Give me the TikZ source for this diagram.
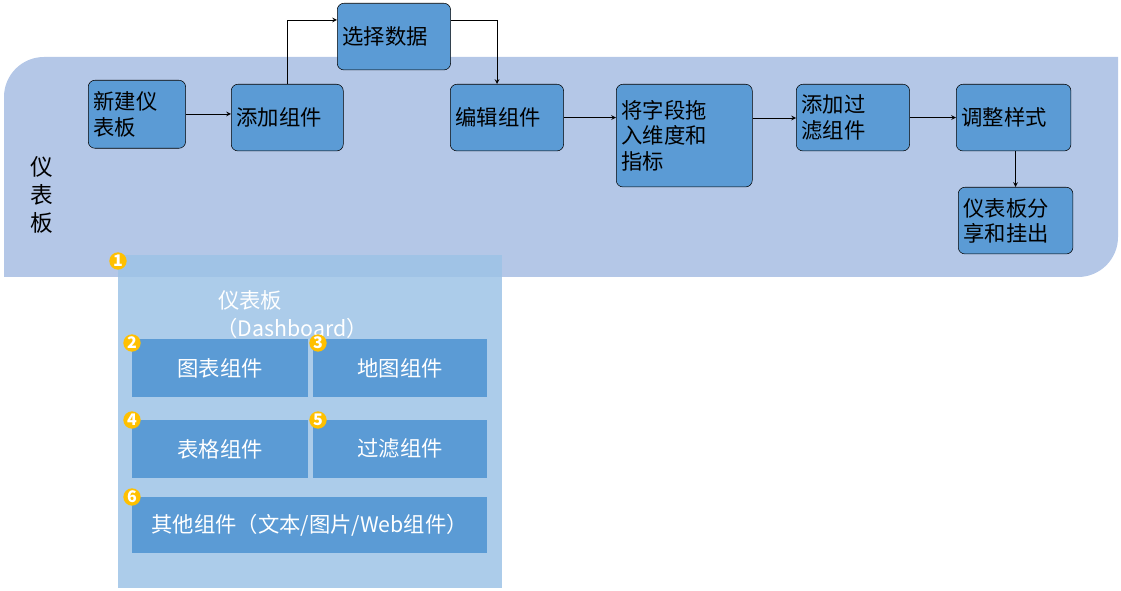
\documentclass[tikz,border=0pt]{standalone}
\usepackage{fontspec}
\setmainfont{Noto Sans CJK SC}
\usetikzlibrary{positioning}
\definecolor{band}{HTML}{B4C7E7}
\definecolor{panel}{HTML}{9DC3E6}
\definecolor{boxblue}{HTML}{5B9BD5}
\definecolor{badge}{HTML}{FFC000}
\begin{document}
\begin{tikzpicture}[x=0.75pt,y=-0.75pt,
   font=\fontsize{16}{19}\selectfont,
   stage/.style={draw=black,fill=boxblue,rounded corners=5pt,align=left,inner sep=4pt,anchor=north west,minimum height=50pt},
   part/.style={fill=boxblue,text=white,anchor=north west,minimum height=43pt,inner sep=0pt},
   num/.style={circle,fill=badge,text=white,inner sep=0pt,minimum size=13pt,font=\bfseries\fontsize{12}{12}\selectfont},
   to/.style={->,semithick,>=stealth}]
\useasboundingbox (0,0) rectangle (1121,591);
% band
\fill[band] (4,277) -- (4,97) to[out=90,in=180] (44,57) -- (1118,57) -- (1118,237) to[out=-90,in=0] (1078,277) -- cycle;
\node[font=\fontsize{17}{21}\selectfont,align=center] (board) at (42,195) {仪\\表\\板};
% panel
\fill[panel,opacity=0.85] (118,255) rectangle (502,588);
\node[text=white,font=\fontsize{16}{19}\selectfont] (ttl) at (250,300) {仪表板};
\node[text=white,font=\fontsize{16}{19}\selectfont] (ttl2) at (292,328) {（Dashboard）};
% stages
\node[stage,text width=65pt,minimum height=51pt] (new) at (88,80) {新建仪\\表板};
\node[stage,text width=76pt] (add) at (231,84) {添加组件};
\node[stage,text width=77pt] (sel) at (337,3) {选择数据};
\node[stage,text width=77pt] (edit) at (450,84) {编辑组件};
\node[stage,text width=94pt,minimum height=77pt] (drag) at (616,84) {将字段拖\\入维度和\\指标};
\node[stage,text width=77pt] (filt) at (796,84) {添加过\\滤组件};
\node[stage,text width=78pt] (style) at (956,84) {调整样式};
\node[stage,text width=78pt] (share) at (958,187) {仪表板分\\享和挂出};
% connectors
\draw[to] (new.east |- 0,114) -- (add.west |- 0,114);
\draw[to] (add.north) |- (sel.west |- 0,20);
\draw[to] (sel.east |- 0,20) -| (497,84);
\draw[to] (edit.east) -- (drag.west |- edit.east);
\draw[to] (drag.east |- 0,118) -- (filt.west |- 0,118);
\draw[to] (filt.east) -- (style.west);
\draw[to] (style.south -| share.north) -- (share.north);
% parts
\node[part,minimum width=132pt] (chart) at (132,339) {图表组件};
\node[part,minimum width=130.5pt] (map) at (313,339) {地图组件};
\node[part,minimum width=132pt] (table) at (132,420) {表格组件};
\node[part,minimum width=130.5pt] (flt) at (313,420) {过滤组件};
\node[part,minimum width=266pt,minimum height=42pt] (other) at (132,497) {其他组件（文本/图片/Web组件）};
\foreach \n/\p in {1/{118,261},2/{132,343},3/{318,343},4/{132,420},5/{318,420},6/{132,497}}
  \node[num] (b\n) at (\p) {\n};
\end{tikzpicture}
\end{document}
